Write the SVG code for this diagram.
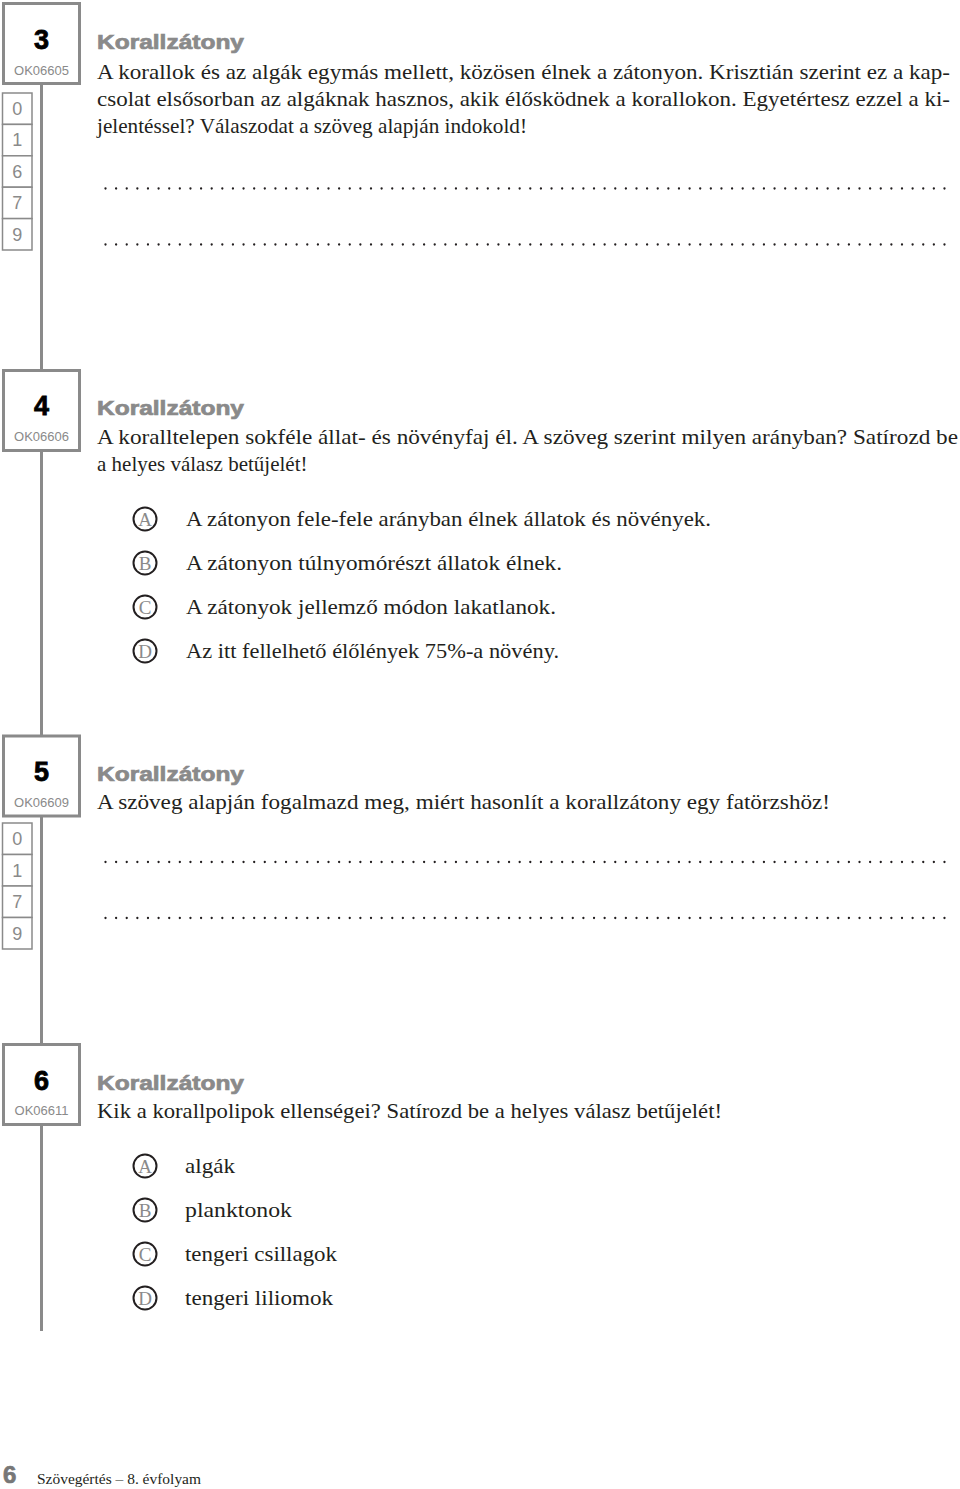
<svg xmlns="http://www.w3.org/2000/svg" width="960" height="1489" viewBox="0 0 960 1489">
<style>
.box{fill:#fff;stroke:#8a8a8a;stroke-width:3}
.cell{fill:#fff;stroke:#8a8a8a;stroke-width:1.5}
.vl{stroke:#8a8a8a;stroke-width:3;fill:none}
.num{font-family:"Liberation Sans",Arial,sans-serif;font-weight:bold;font-size:27px;fill:#000;stroke:#000;stroke-width:0.8;text-anchor:middle}
.code{font-family:"Liberation Sans",Arial,sans-serif;font-size:13px;fill:#8a8a8a;text-anchor:middle}
.digit{font-family:"Liberation Sans",Arial,sans-serif;font-size:18px;fill:#8a8a8a;text-anchor:middle}
.title{font-family:"Liberation Sans",Arial,sans-serif;font-weight:bold;font-size:20px;fill:#8a8a8a;stroke:#8a8a8a;stroke-width:0.7}
.body{font-family:"Liberation Serif","Times New Roman",serif;font-size:21px;fill:#231f20}
.dots{stroke:#231f20;stroke-width:2.3;stroke-linecap:round;stroke-dasharray:0 10.62;fill:none}
.opt{fill:#fff;stroke:#231f20;stroke-width:2}
.optl{font-family:"Liberation Serif","Times New Roman",serif;font-size:19px;fill:#8a8a8a;text-anchor:middle}
.foot{font-family:"Liberation Serif","Times New Roman",serif;font-size:15px;fill:#231f20}
.footn{font-family:"Liberation Sans",Arial,sans-serif;font-weight:bold;font-size:24px;fill:#777;stroke:#777;stroke-width:0.7}
</style>
<g id="connectors">
<line class="vl" x1="41.5" y1="84" x2="41.5" y2="370"/>
<line class="vl" x1="41.5" y1="451" x2="41.5" y2="736"/>
<line class="vl" x1="41.5" y1="816" x2="41.5" y2="1044"/>
<line class="vl" x1="41.5" y1="1125" x2="41.5" y2="1331"/>
</g>
<g id="q3">
<rect class="box" x="3.5" y="3.5" width="76" height="80"/>
<text class="num" x="41.5" y="49">3</text>
<text class="code" x="41.5" y="75">OK06605</text>
<g id="q3-score">
<rect class="cell" x="2.5" y="93" width="29.5" height="31.4"/>
<rect class="cell" x="2.5" y="124.4" width="29.5" height="31.4"/>
<rect class="cell" x="2.5" y="155.8" width="29.5" height="31.4"/>
<rect class="cell" x="2.5" y="187.2" width="29.5" height="31.4"/>
<rect class="cell" x="2.5" y="218.6" width="29.5" height="31.4"/>
<text class="digit" x="17.2" y="115">0</text>
<text class="digit" x="17.2" y="146.4">1</text>
<text class="digit" x="17.2" y="177.8">6</text>
<text class="digit" x="17.2" y="209.2">7</text>
<text class="digit" x="17.2" y="240.6">9</text>
</g>
<text class="title" x="97" y="49" textLength="147" lengthAdjust="spacingAndGlyphs">Korallzátony</text>
<text class="body" x="97" y="79" textLength="853" lengthAdjust="spacingAndGlyphs">A korallok és az algák egymás mellett, közösen élnek a zátonyon. Krisztián szerint ez a kap-</text>
<text class="body" x="97" y="106" textLength="853" lengthAdjust="spacingAndGlyphs">csolat elsősorban az algáknak hasznos, akik élősködnek a korallokon. Egyetértesz ezzel a ki-</text>
<text class="body" x="97" y="133" textLength="430" lengthAdjust="spacingAndGlyphs">jelentéssel? Válaszodat a szöveg alapján indokold!</text>
<line class="dots" x1="105.5" y1="188.5" x2="948" y2="188.5"/>
<line class="dots" x1="105.5" y1="244.5" x2="948" y2="244.5"/>
</g>
<g id="q4">
<rect class="box" x="3.5" y="370.5" width="76" height="80"/>
<text class="num" x="41.5" y="415">4</text>
<text class="code" x="41.5" y="441">OK06606</text>
<text class="title" x="97" y="415" textLength="147" lengthAdjust="spacingAndGlyphs">Korallzátony</text>
<text class="body" x="97" y="444" textLength="861" lengthAdjust="spacingAndGlyphs">A koralltelepen sokféle állat- és növényfaj él. A szöveg szerint milyen arányban? Satírozd be</text>
<text class="body" x="97" y="471">a helyes válasz betűjelét!</text>
<g id="q4-A"><circle class="opt" cx="145" cy="519" r="11.5"/><text class="optl" x="145" y="525.5">A</text><text class="body" x="186" y="526" textLength="525" lengthAdjust="spacingAndGlyphs">A zátonyon fele-fele arányban élnek állatok és növények.</text></g>
<g id="q4-B"><circle class="opt" cx="145" cy="563" r="11.5"/><text class="optl" x="145" y="569.5">B</text><text class="body" x="186" y="570" textLength="376" lengthAdjust="spacingAndGlyphs">A zátonyon túlnyomórészt állatok élnek.</text></g>
<g id="q4-C"><circle class="opt" cx="145" cy="607" r="11.5"/><text class="optl" x="145" y="613.5">C</text><text class="body" x="186" y="614" textLength="370" lengthAdjust="spacingAndGlyphs">A zátonyok jellemző módon lakatlanok.</text></g>
<g id="q4-D"><circle class="opt" cx="145" cy="651" r="11.5"/><text class="optl" x="145" y="657.5">D</text><text class="body" x="186" y="658" textLength="373" lengthAdjust="spacingAndGlyphs">Az itt fellelhető élőlények 75%-a növény.</text></g>
</g>
<g id="q5">
<rect class="box" x="3.5" y="736" width="76" height="80"/>
<text class="num" x="41.5" y="781">5</text>
<text class="code" x="41.5" y="807">OK06609</text>
<g id="q5-score">
<rect class="cell" x="2.5" y="823" width="29.5" height="31.5"/>
<rect class="cell" x="2.5" y="854.5" width="29.5" height="31.5"/>
<rect class="cell" x="2.5" y="886" width="29.5" height="31.5"/>
<rect class="cell" x="2.5" y="917.5" width="29.5" height="31.5"/>
<text class="digit" x="17.2" y="845">0</text>
<text class="digit" x="17.2" y="876.5">1</text>
<text class="digit" x="17.2" y="908">7</text>
<text class="digit" x="17.2" y="939.5">9</text>
</g>
<text class="title" x="97" y="781" textLength="147" lengthAdjust="spacingAndGlyphs">Korallzátony</text>
<text class="body" x="97" y="809" textLength="733" lengthAdjust="spacingAndGlyphs">A szöveg alapján fogalmazd meg, miért hasonlít a korallzátony egy fatörzshöz!</text>
<line class="dots" x1="105.5" y1="862" x2="948" y2="862"/>
<line class="dots" x1="105.5" y1="918" x2="948" y2="918"/>
</g>
<g id="q6">
<rect class="box" x="3.5" y="1044.5" width="76" height="80"/>
<text class="num" x="41.5" y="1090">6</text>
<text class="code" x="41.5" y="1115">OK06611</text>
<text class="title" x="97" y="1090" textLength="147" lengthAdjust="spacingAndGlyphs">Korallzátony</text>
<text class="body" x="97" y="1118" textLength="625" lengthAdjust="spacingAndGlyphs">Kik a korallpolipok ellenségei? Satírozd be a helyes válasz betűjelét!</text>
<g id="q6-A"><circle class="opt" cx="145" cy="1166" r="11.5"/><text class="optl" x="145" y="1172.5">A</text><text class="body" x="185" y="1173" textLength="50" lengthAdjust="spacingAndGlyphs">algák</text></g>
<g id="q6-B"><circle class="opt" cx="145" cy="1210" r="11.5"/><text class="optl" x="145" y="1216.5">B</text><text class="body" x="185" y="1217" textLength="107" lengthAdjust="spacingAndGlyphs">planktonok</text></g>
<g id="q6-C"><circle class="opt" cx="145" cy="1254" r="11.5"/><text class="optl" x="145" y="1260.5">C</text><text class="body" x="185" y="1261" textLength="152" lengthAdjust="spacingAndGlyphs">tengeri csillagok</text></g>
<g id="q6-D"><circle class="opt" cx="145" cy="1298" r="11.5"/><text class="optl" x="145" y="1304.5">D</text><text class="body" x="185" y="1305" textLength="148" lengthAdjust="spacingAndGlyphs">tengeri liliomok</text></g>
</g>
<g id="footer">
<text class="footn" x="3" y="1483">6</text>
<text class="foot" x="37" y="1484" textLength="164" lengthAdjust="spacingAndGlyphs">Szövegértés – 8. évfolyam</text>
</g>
</svg>
